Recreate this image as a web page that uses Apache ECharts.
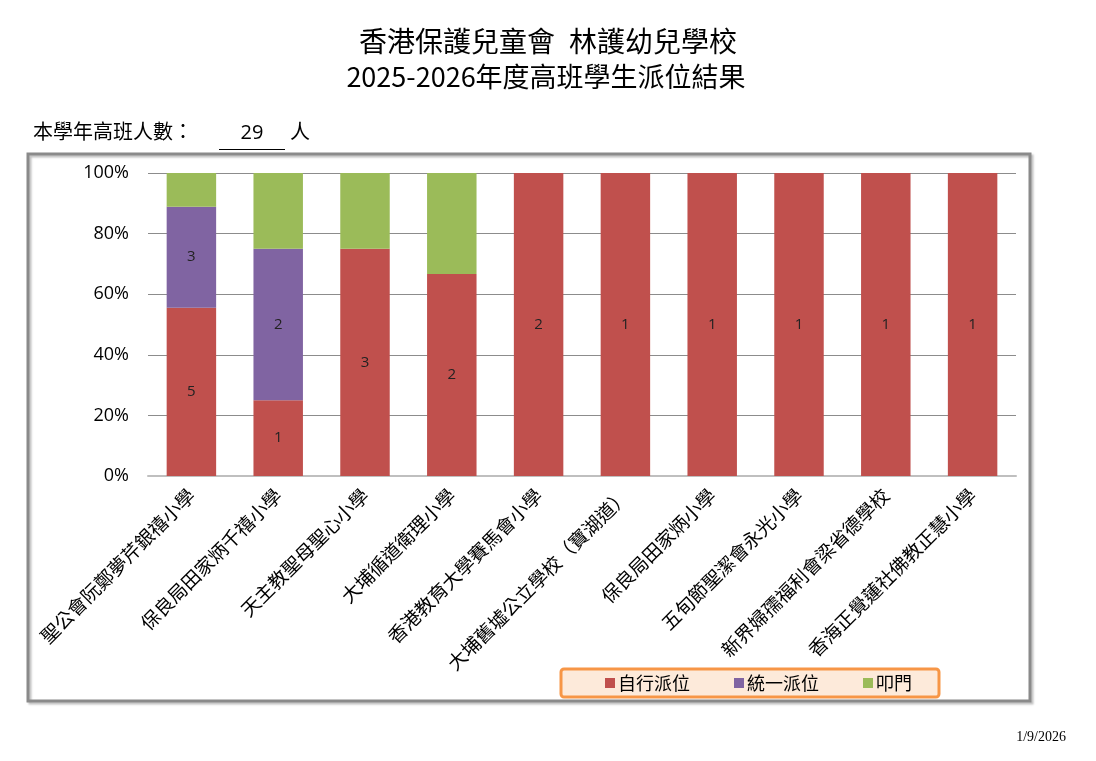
<!DOCTYPE html>
<html>
<head>
<meta charset="utf-8">
<title>2025-2026年度高班學生派位結果</title>
<script src="https://cdn.jsdelivr.net/npm/echarts@6/dist/echarts.min.js"></script>
<style>
    html, body { margin: 0; padding: 0; background: #fff; }
    #main { width: 1096px; height: 761px; }
</style>
</head>
<body>
<div id="main"></div>
<script>
    // 學校名稱
    var schools = [
        '聖公會阮鄭夢芹銀禧小學',
        '保良局田家炳千禧小學',
        '天主教聖母聖心小學',
        '大埔循道衛理小學',
        '香港教育大學賽馬會小學',
        '大埔舊墟公立學校（寶湖道）',
        '保良局田家炳小學',
        '五旬節聖潔會永光小學',
        '新界婦孺福利會梁省德學校',
        '香海正覺蓮社佛教正慧小學'
    ];
    // 人數
    var selfAlloc = [5, 1, 3, 2, 2, 1, 1, 1, 1, 1];   // 自行派位
    var centralAlloc = [3, 2, 0, 0, 0, 0, 0, 0, 0, 0]; // 統一派位
    var knockDoor = [1, 1, 1, 1, 0, 0, 0, 0, 0, 0];    // 叩門
    var yTicks = [0, 20, 40, 60, 80, 100];
    var classTotal = 29;
    var printDate = '1/9/2026';

    var totals = schools.map(function (s, i) {
        return selfAlloc[i] + centralAlloc[i] + knockDoor[i];
    });
    function toPercent(arr) {
        return arr.map(function (v, i) { return totals[i] ? v / totals[i] * 100 : 0; });
    }
    function makeSeries(name, counts, color, showLabel) {
        return {
            name: name,
            type: 'bar',
            stack: 'total',
            barCategoryGap: '43%',
            data: toPercent(counts),
            itemStyle: { color: color },
            label: {
                show: showLabel,
                position: 'inside',
                fontSize: 15,
                color: '#222',
                fontFamily: 'Open Sans',
                formatter: function (p) {
                    return counts[p.dataIndex] > 0 ? counts[p.dataIndex] : '';
                }
            }
        };
    }

    var myChart = echarts.init(document.getElementById('main'));
    var option = {
        animation: false,
        graphic: [
            {   // 標題
                type: 'text',
                x: 548, y: 41,
                style: {
                    text: '香港保護兒童會\u2002林護幼兒學校',
                    fontSize: 28, fill: '#000', fontFamily: 'Noto Sans CJK TC',
                    align: 'center', verticalAlign: 'middle'
                }
            },
            {
                type: 'text',
                x: 546, y: 77,
                style: {
                    text: '2025-2026年度高班學生派位結果',
                    fontSize: 27, fill: '#000', fontFamily: 'Noto Sans CJK TC',
                    align: 'center', verticalAlign: 'middle'
                }
            },
            {   // 圖表外框
                type: 'rect',
                shape: { x: 28, y: 154, width: 1002, height: 547 },
                style: {
                    fill: null,
                    stroke: '#8a8a8a',
                    lineWidth: 3,
                    shadowBlur: 2,
                    shadowOffsetX: 2,
                    shadowOffsetY: 2,
                    shadowColor: 'rgba(0,0,0,0.25)'
                }
            },
            {
                type: 'text',
                left: 33, top: 121,
                style: { text: '本學年高班人數：', fontSize: 20, fill: '#000', fontFamily: 'Noto Sans CJK TC' }
            },
            {
                type: 'text',
                x: 252, y: 133,
                style: { text: String(classTotal), fontSize: 20, fill: '#000', fontFamily: 'Open Sans', align: 'center', verticalAlign: 'middle' }
            },
            {
                type: 'line',
                shape: { x1: 219, y1: 149.5, x2: 285, y2: 149.5 },
                style: { stroke: '#000', lineWidth: 1 }
            },
            {
                type: 'text',
                left: 290, top: 121,
                style: { text: '人', fontSize: 20, fill: '#000', fontFamily: 'Noto Sans CJK TC' }
            },
            {
                type: 'text',
                right: 30, top: 730,
                style: { text: printDate, fontSize: 14, fill: '#000', fontFamily: 'Liberation Serif' }
            }
        ],
        legend: {
            left: 561,
            top: 669,
            padding: [5, 27, 5, 44],
            itemGap: 44,
            itemWidth: 10,
            itemHeight: 10,
            icon: 'rect',
            backgroundColor: '#fdeada',
            borderColor: '#f79646',
            borderWidth: 3,
            borderRadius: 3,
            textStyle: { fontSize: 18, color: '#000', fontFamily: 'Noto Sans CJK TC', padding: [0, 0, 0, -2] }
        },
        grid: {
            left: 148,
            right: 80,
            top: 173,
            bottom: 285
        },
        xAxis: {
            type: 'category',
            data: schools,
            axisLine: { lineStyle: { color: '#bfbfbf', width: 2 } },
            axisTick: { show: false },
            axisLabel: {
                rotate: 45,
                interval: 0,
                margin: 16,
                fontSize: 19,
                color: '#000',
                fontFamily: 'Noto Sans CJK TC'
            }
        },
        yAxis: {
            type: 'value',
            min: yTicks[0],
            max: yTicks[yTicks.length - 1],
            interval: yTicks[1] - yTicks[0],
            axisLine: { show: false },
            axisTick: { show: false },
            splitLine: { lineStyle: { color: '#8c8c8c', width: 1 } },
            axisLabel: {
                margin: 19,
                fontSize: 18,
                color: '#000',
                fontFamily: 'Open Sans',
                formatter: '{value}%'
            }
        },
        series: [
            makeSeries('自行派位', selfAlloc, '#c0504d', true),
            makeSeries('統一派位', centralAlloc, '#8064a2', true),
            makeSeries('叩門', knockDoor, '#9bbb59', false)
        ]
    };
    myChart.setOption(option);
</script>
</body>
</html>
